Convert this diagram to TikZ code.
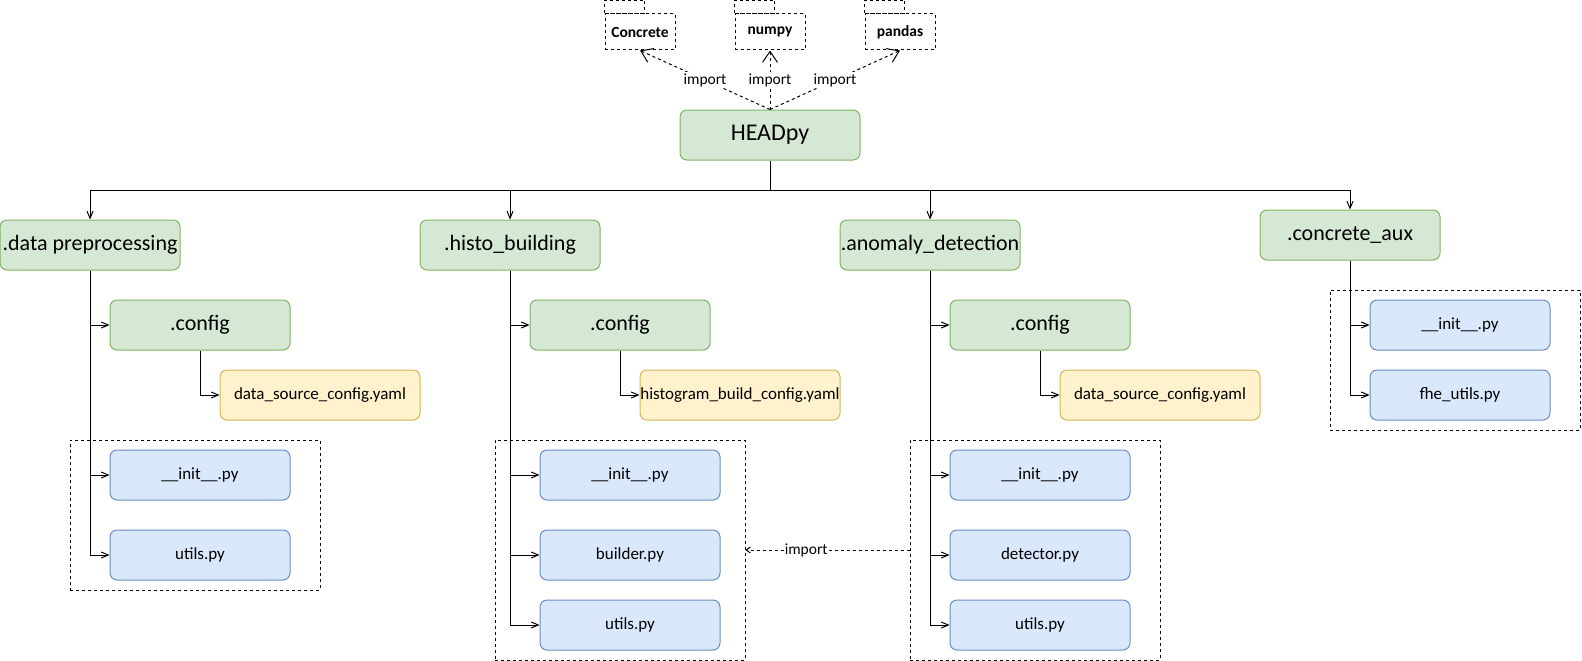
\documentclass[tikz,border=0pt]{standalone}
\usepackage{fontspec}
\setmainfont{Carlito}
\usetikzlibrary{arrows.meta}
\definecolor{modfill}{HTML}{D5E8D4}
\definecolor{modline}{HTML}{82B366}
\definecolor{filefill}{HTML}{DAE8FC}
\definecolor{fileline}{HTML}{6C8EBF}
\definecolor{yamlfill}{HTML}{FFF2CC}
\definecolor{yamlline}{HTML}{D6B656}

\begin{document}
\begin{tikzpicture}[x=1pt,y=-1pt,
	mod/.style={draw=modline,fill=modfill,rounded corners=7pt,line width=1pt,minimum width=180pt,minimum height=50pt,inner sep=0pt,font=\fontsize{22}{26}\selectfont},
	file/.style={mod,draw=fileline,fill=filefill,font=\fontsize{17}{20}\selectfont},
	yaml/.style={file,draw=yamlline,fill=yamlfill,minimum width=200pt},
	grp/.style={draw,dash pattern=on 3pt off 3pt,line width=1pt,minimum width=250pt,inner sep=0pt},
	pkg/.style={draw,dash pattern=on 3pt off 3pt,line width=1pt,fill=white,minimum width=70pt,minimum height=36pt,inner sep=0pt,font=\fontsize{15.5}{18}\selectfont\bfseries},
	tree/.style={line width=1pt,-{Straight Barb[length=7pt,width=6pt]}},
	imp/.style={line width=1pt,dash pattern=on 3pt off 3pt,-{Straight Barb[length=11pt,width=15pt]}},
	lbl/.style={fill=white,inner sep=1pt,font=\fontsize{15.5}{18}\selectfont}]
	\useasboundingbox (0,0) rectangle (1582,661);
	% imported packages
	\node[pkg] (concrete) at (640,32) {Concrete};
	\node[pkg] (numpy) at (770,32) {numpy};
	\node[pkg] (pandas) at (900,32) {pandas};
	\foreach \p in {concrete,numpy,pandas}
		\draw[dash pattern=on 3pt off 3pt,line width=1pt] (\p.north west) rectangle ++(40,-13);
	\node[mod,font=\fontsize{24}{28}\selectfont] (head) at (770,135) {HEADpy};
	\draw[imp] (head.north) -- node[lbl,pos=0.5] {import} (concrete.south);
	\draw[imp] (head.north) -- node[lbl,pos=0.5] {import} (numpy.south);
	\draw[imp] (head.north) -- node[lbl,pos=0.5] {import} (pandas.south);
	% modules
	\node[mod] (data) at (90,245) {.data preprocessing};
	\node[mod] (histo) at (510,245) {.histo\_building};
	\node[mod] (anom) at (930,245) {.anomaly\_detection};
	\node[mod] (caux) at (1350,235) {.concrete\_aux};
	\coordinate (bus) at (770,190);
	\draw[line width=1pt] (head.south) -- (bus);
	\foreach \m in {data,histo,anom,caux}
		\draw[tree] (bus) -| (\m.north);
	% groups of files
	\node[grp,minimum height=150pt] (dgrp) at (195,515) {};
	\node[grp,minimum height=220pt] (hgrp) at (620,550) {};
	\node[grp,minimum height=220pt] (agrp) at (1035,550) {};
	\node[grp,minimum height=140pt] (cgrp) at (1455,360) {};
	\node[mod] (dcfg) at (200,325) {.config};
	\node[mod] (hcfg) at (620,325) {.config};
	\node[mod] (acfg) at (1040,325) {.config};
	\node[yaml] (dyaml) at (320,395) {data\_source\_config.yaml};
	\node[yaml] (hyaml) at (740,395) {histogram\_build\_config.yaml};
	\node[yaml] (ayaml) at (1160,395) {data\_source\_config.yaml};
	\node[file] (dinit) at (200,475) {\_\_init\_\_.py};
	\node[file] (dutil) at (200,555) {utils.py};
	\node[file] (hinit) at (630,475) {\_\_init\_\_.py};
	\node[file] (hbuild) at (630,555) {builder.py};
	\node[file] (hutil) at (630,625) {utils.py};
	\node[file] (ainit) at (1040,475) {\_\_init\_\_.py};
	\node[file] (adet) at (1040,555) {detector.py};
	\node[file] (autil) at (1040,625) {utils.py};
	\node[file] (cinit) at (1460,325) {\_\_init\_\_.py};
	\node[file] (cfhe) at (1460,395) {fhe\_utils.py};
	\foreach \a/\b in {data/dcfg,data/dinit,data/dutil,dcfg/dyaml,
		histo/hcfg,histo/hinit,histo/hbuild,histo/hutil,hcfg/hyaml,
		anom/acfg,anom/ainit,anom/adet,anom/autil,acfg/ayaml,
		caux/cinit,caux/cfhe}
		\draw[tree] (\a.south) |- (\b.west);
	\draw[line width=1pt,dash pattern=on 3pt off 3pt,-{Straight Barb[length=4pt,width=6pt]}] (agrp.west) -- node[lbl,pos=0.63] {import} (hgrp.east);
\end{tikzpicture}
\end{document}
